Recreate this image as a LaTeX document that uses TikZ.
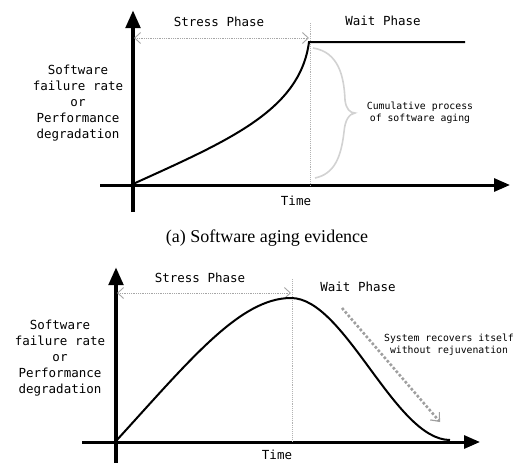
\documentclass[tikz,border=0pt]{standalone}
\usepackage{fontspec}
\setmainfont{Liberation Serif}
\newfontfamily\monof{DejaVu Sans Mono}
\usetikzlibrary{arrows.meta}
\begin{document}
\begin{tikzpicture}[x=1pt,y=-1pt,
  lbl/.style={font=\monof\fontsize{12.5}{16}\selectfont,inner sep=0pt,align=center},
  small/.style={font=\monof\fontsize{9.8}{11.5}\selectfont,inner sep=0pt,align=center},
  yaxis/.style={line width=4.5pt,-{Triangle[length=18pt,width=14pt]}},
  xaxis/.style={line width=3pt,-{Triangle[length=16pt,width=13pt]}},
  phase/.style={gray!70,densely dotted,line width=0.8pt,{Straight Barb[length=6pt,width=11pt,line width=0.9pt]}-{Straight Barb[length=6pt,width=11pt,line width=0.9pt]}},
  vline/.style={gray!60,densely dotted,line width=0.9pt},
  curve/.style={line width=2pt,black}]
\useasboundingbox (0,0) rectangle (514,463);
% ---------- top ----------
\coordinate (ya1) at (133,212); \coordinate (yt1) at (133,10);
\coordinate (xa1) at (100,185); \coordinate (xt1) at (510,185);
\coordinate (o1) at (133,184); \coordinate (p1) at (309,42); \coordinate (e1) at (465,42);
\coordinate (al1) at (134,38); \coordinate (ar1) at (309,38);
\coordinate (vt1) at (310,23); \coordinate (vb1) at (310,185);
\draw[xaxis] (xa1) -- (xt1);
\draw[yaxis] (ya1) -- (yt1);
\draw[vline] (vt1) -- (vb1);
\draw[phase] (al1) -- (ar1);
\draw[curve] (o1) .. controls (230,140) and (300,110) .. (p1) -- (e1);
\draw[gray!35,line width=1.6pt] (313,48) .. controls (338,52) and (344,75) .. (345,100)
   .. controls (346,109) and (350,113) .. (355,113)
   .. controls (349,114) and (345,120) .. (344,132)
   .. controls (341,158) and (334,174) .. (315,178);
\node[lbl] (stress1) at (219,22) {Stress Phase};
\node[lbl] (wait1) at (383,21) {Wait Phase};
\node[lbl] (ylab1) at (78,103) {Software\\failure rate\\or\\Performance\\degradation};
\node[lbl] (time1) at (296,201) {Time};
\node[small] (cum) at (420,113) {Cumulative process\\of software aging};
\node[font=\fontsize{18}{20}\selectfont,inner sep=0pt] (cap) at (267,238) {(a) Software aging evidence};
% ---------- bottom ----------
\coordinate (ya2) at (116,463); \coordinate (yt2) at (116,267);
\coordinate (xa2) at (82,442); \coordinate (xt2) at (480,442);
\coordinate (o2) at (116,441); \coordinate (p2) at (291,298); \coordinate (e2) at (450,440);
\coordinate (al2) at (117,293); \coordinate (ar2) at (291,293);
\coordinate (vt2) at (292,279); \coordinate (vb2) at (292,442);
\coordinate (ds) at (342,308); \coordinate (de) at (440,422);
\draw[xaxis] (xa2) -- (xt2);
\draw[yaxis] (ya2) -- (yt2);
\draw[vline] (vt2) -- (vb2);
\draw[phase] (al2) -- (ar2);
\draw[curve] (o2) .. controls (190,360) and (240,298) .. (p2)
   .. controls (345,298) and (395,440) .. (e2);
\draw[gray!75,line width=2.6pt,dotted,-{Straight Barb[length=7pt,width=12pt,line width=1.2pt]}] (ds) -- (de);
\node[lbl] (stress2) at (200,278) {Stress Phase};
\node[lbl] (wait2) at (358,287) {Wait Phase};
\node[lbl] (ylab2) at (60,358) {Software\\failure rate\\or\\Performance\\degradation};
\node[lbl] (time2) at (277,455) {Time};
\node[small] (rec) at (449,345) {System recovers itself\\without rejuvenation};
\end{tikzpicture}
\end{document}
